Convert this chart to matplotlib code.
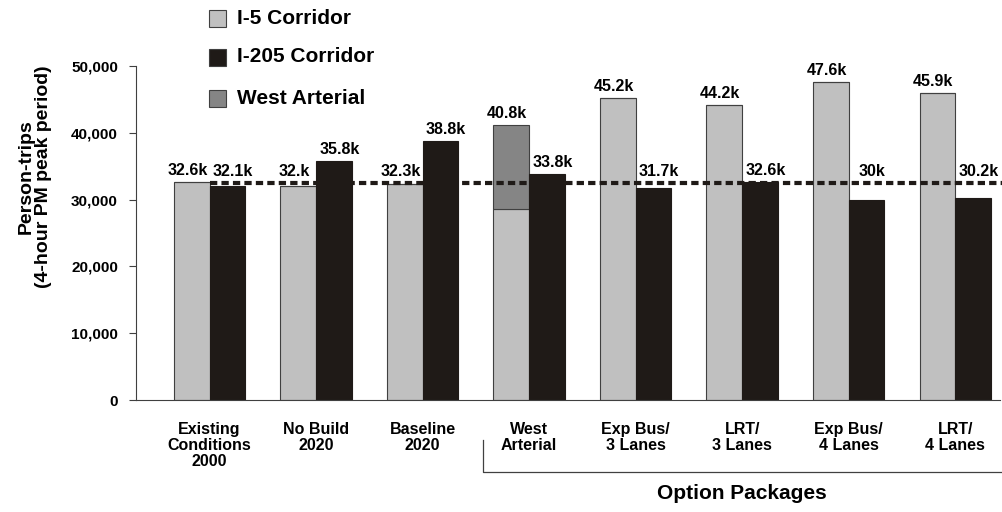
import matplotlib.pyplot as plt
import matplotlib.transforms as mtransforms
import numpy as np

plt.rcParams['font.family'] = ['Liberation Sans', 'DejaVu Sans']
plt.rcParams['font.weight'] = 'bold'

# categories and values (person-trips)
categories = ['Existing\nConditions\n2000', 'No Build\n2020', 'Baseline\n2020', 'West\nArterial',
              'Exp Bus/\n3 Lanes', 'LRT/\n3 Lanes', 'Exp Bus/\n4 Lanes', 'LRT/\n4 Lanes']
i5 = [32600, 32000, 32300, 28600, 45200, 44200, 47600, 45900]
i205 = [32100, 35800, 38800, 33800, 31700, 32600, 30000, 30200]
west_arterial = [0, 0, 0, 12600, 0, 0, 0, 0]
i5_labels = ['32.6k', '32.k', '32.3k', '40.8k', '45.2k', '44.2k', '47.6k', '45.9k']
i205_labels = ['32.1k', '35.8k', '38.8k', '33.8k', '31.7k', '32.6k', '30k', '30.2k']
reference_level = 32500

light = '#c0c0c0'
dark = '#1f1a17'
mid = '#858585'

fig = plt.figure(figsize=(10.02, 5.12), dpi=100)
ax = fig.add_axes([136/1002, 1-400/512, (1000-136)/1002, 334/512])

x = np.arange(len(categories))
w = 0.335
ax.bar(x - w/2, i5, w, color=light, edgecolor='#404040', linewidth=0.8)
ax.bar(x - w/2, west_arterial, w, bottom=i5, color=mid, edgecolor='#404040', linewidth=0.8)
ax.bar(x + w/2, i205, w, color=dark, edgecolor=dark, linewidth=0.8)

# dashed reference line
ax.plot([0, 7.45], [reference_level, reference_level], color=dark, linestyle=(0, (1.75, 1.0)),
        linewidth=3, clip_on=False, zorder=5)

# value labels (kept above the dashed line)
tops = np.array(i5) + np.array(west_arterial)
for i in range(len(categories)):
    y1 = max(tops[i], reference_level)
    ax.annotate(i5_labels[i], (x[i] - w/2, y1), xytext=(-3, 3), textcoords='offset points',
                ha='center', va='bottom', fontsize=11.5, fontweight='bold')
    y2 = max(i205[i], reference_level)
    ax.annotate(i205_labels[i], (x[i] + w/2, y2), xytext=(4, 3), textcoords='offset points',
                ha='center', va='bottom', fontsize=11.5, fontweight='bold')

ax.set_xlim(-0.69, 7.42)
ax.set_ylim(0, 50000)
ax.set_yticks([0, 10000, 20000, 30000, 40000, 50000])
ax.set_yticklabels(['0', '10,000', '20,000', '30,000', '40,000', '50,000'], fontsize=11, fontweight='bold')
ax.set_xticks([])
ax.spines['top'].set_visible(False)
ax.spines['right'].set_visible(False)
ax.spines['left'].set_color('#404040')
ax.spines['bottom'].set_color('#404040')
ax.tick_params(axis='y', length=5, color='#404040', pad=8)

fig.text(35/1002, 1-177/512, 'Person-trips\n(4-hour PM peak period)', rotation=90,
         ha='center', va='center', multialignment='center', fontsize=14, fontweight='bold',
         linespacing=1.05)

# category labels
trans = mtransforms.blended_transform_factory(ax.transData, ax.transAxes)
for i, c in enumerate(categories):
    ax.text(x[i], -0.065, c, transform=trans, ha='center', va='top', fontsize=11.5,
            fontweight='bold', linespacing=1.1)

# option packages bracket
bx = (483 - 209.5) / 106.5
ax.plot([bx, bx, 7.45], [-0.12, -0.216, -0.216], transform=trans, color='#404040',
        linewidth=0.9, clip_on=False)
ax.text(5.0, -0.28, 'Option Packages', transform=trans, ha='center', va='center',
        fontsize=15, fontweight='bold')

# legend
leg_items = [('I-5 Corridor', light), ('I-205 Corridor', dark), ('West Arterial', mid)]
leg_y = [18, 57, 98]
for (name, col), yy in zip(leg_items, leg_y):
    fig.patches.append(plt.Rectangle((209/1002, 1-(yy+8.5)/512), 17/1002, 17/512,
                                     transform=fig.transFigure, facecolor=col,
                                     edgecolor='#404040', linewidth=0.8))
    fig.text(237/1002, 1-yy/512, name, ha='left', va='center', fontsize=15, fontweight='bold')

fig.savefig('out.png', dpi=100)
